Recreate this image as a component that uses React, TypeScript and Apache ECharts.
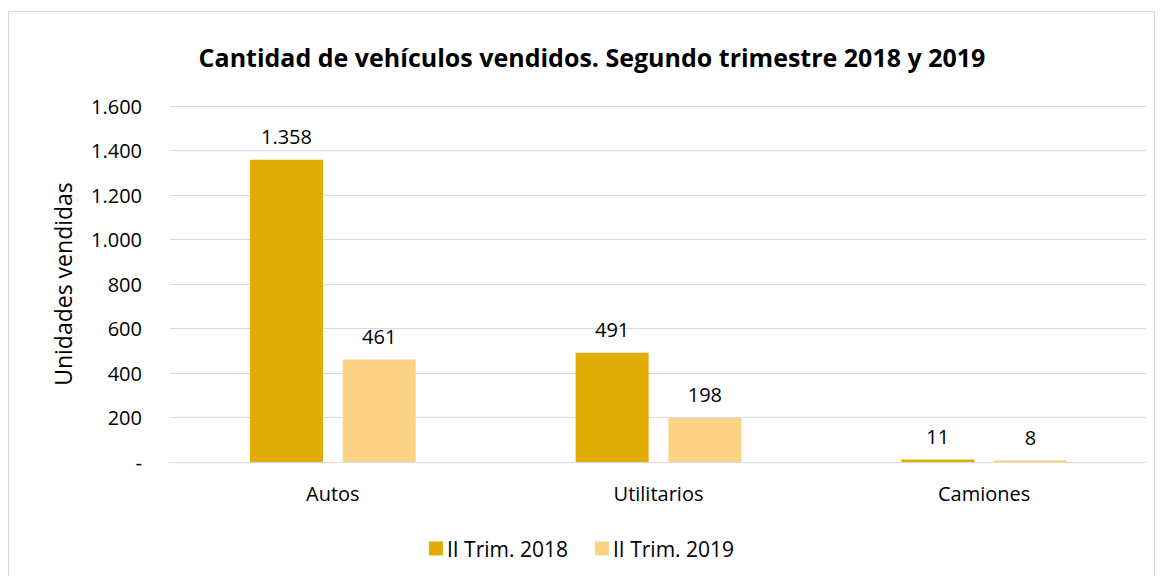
import React, { useEffect, useRef } from "react";
import * as echarts from "echarts";

const categories = ["Autos", "Utilitarios", "Camiones"];
const series2018 = [1358, 491, 11];
const series2019 = [461, 198, 8];
const seriesNames = ["II Trim. 2018", "II Trim. 2019"];
const titleText = "Cantidad de vehículos vendidos. Segundo trimestre 2018 y 2019";
const yAxisName = "Unidades vendidas";

const FONT = "'Open Sans', 'Noto Sans', sans-serif";

function fmt(v: number): string {
  if (v === 0) return "-";
  return String(v).replace(/\B(?=(\d{3})+(?!\d))/g, ".");
}

export default function App() {
  const ref = useRef<HTMLDivElement>(null);
  useEffect(() => {
    if (!ref.current) return;
    const chart = echarts.init(ref.current, null, { renderer: "svg" });
    chart.setOption({
      animation: false,
      backgroundColor: "#ffffff",
      title: {
        text: titleText,
        left: 587,
        textAlign: "center",
        top: 39,
        textStyle: { fontFamily: FONT, fontSize: 25, fontWeight: "bold", color: "#000" },
      },
      graphic: [
        {
          type: "rect",
          shape: { x: 8.5, y: 11.5, width: 1146, height: 580 },
          style: { fill: "none", stroke: "#D9D9D9", lineWidth: 1 },
        },
      ],
      legend: {
        top: 533,
        left: "center",
        itemWidth: 14,
        itemHeight: 14,
        itemGap: 27,
        icon: "rect",
        textStyle: { fontFamily: FONT, fontSize: 21, color: "#000", padding: [0, 0, 0, -1] },
        data: seriesNames,
      },
      grid: { left: 170, right: 16, top: 106, bottom: 114 },
      xAxis: {
        type: "category",
        data: categories,
        axisTick: { show: false },
        axisLine: { lineStyle: { color: "#D9D9D9" } },
        axisLabel: { fontFamily: FONT, fontSize: 20, color: "#000", margin: 21 },
      },
      yAxis: {
        type: "value",
        min: 0,
        max: 1600,
        interval: 200,
        name: yAxisName,
        nameLocation: "middle",
        nameGap: 96,
        nameTextStyle: { fontFamily: FONT, fontSize: 23, color: "#000" },
        axisLabel: { fontFamily: FONT, fontSize: 20, color: "#000", margin: 28, formatter: (v: number) => fmt(v) },
        splitLine: { lineStyle: { color: "#D9D9D9" } },
        axisLine: { show: false },
        axisTick: { show: false },
      },
      series: [
        {
          name: seriesNames[0],
          type: "bar",
          data: series2018,
          barWidth: 73,
          barGap: "27%",
          itemStyle: { color: "#E0AC05" },
          label: { show: true, position: "top", distance: 13, fontFamily: FONT, fontSize: 20, color: "#000", formatter: (p: any) => fmt(p.value) },
        },
        {
          name: seriesNames[1],
          type: "bar",
          data: series2019,
          barWidth: 73,
          itemStyle: { color: "#FDD385" },
          label: { show: true, position: "top", distance: 13, fontFamily: FONT, fontSize: 20, color: "#000", formatter: (p: any) => fmt(p.value) },
        },
      ],
    });
    return () => chart.dispose();
  }, []);
  return <div ref={ref} style={{ position: "fixed", left: 0, top: 0, width: 1163, height: 576 }} />;
}
